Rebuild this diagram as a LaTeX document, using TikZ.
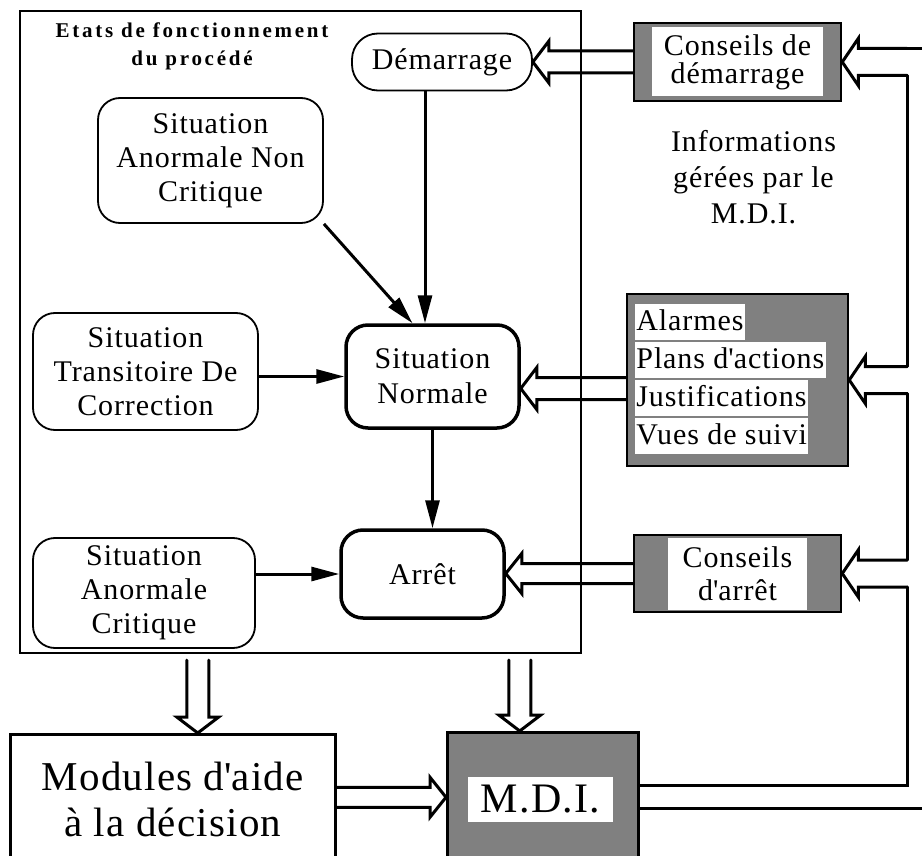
\documentclass[tikz,border=0pt]{standalone}
\usepackage{fontspec}
\setmainfont{Liberation Serif}[LetterSpace=3]
\usetikzlibrary{positioning,calc,arrows.meta}

\begin{document}
\begin{tikzpicture}[x=1pt, y=-1pt,
    txt/.style={font=\fontsize{30}{34}\selectfont, align=center},
    etat/.style={txt, draw, line width=1.8pt, rounded corners=22pt, inner sep=0pt},
    etatfort/.style={etat, line width=3.5pt},
    conseil/.style={draw, line width=2.5pt, fill=black!50, inner sep=0pt},
    blanc/.style={txt, fill=white, inner sep=0pt},
    fleche/.style={line width=3pt, -{Triangle[length=28pt, width=14pt]}},
    hollow/.style={line width=3pt, line cap=round, line join=miter}]

    \useasboundingbox (0,0) rectangle (922,856);
    \clip (0,0) rectangle (922,856);

    % head length of the hollow arrows
    \def\headlen{16pt}

    % Macro for drawing a hollow double-line arrow: #1 tail, #2 tip, #3 half width of the shaft
    \newcommand{\dblarrow}[3]{
        \coordinate (hb) at ($(#2)!\headlen!(#1)$);
        \draw[hollow]
            ($(#1)!#3!90:(#2)$) --
            ($(hb)!#3!90:(#2)$) --
            ($(hb)!{#3+10pt}!90:(#2)$) --
            (#2) --
            ($(hb)!{#3+10pt}!-90:(#2)$) --
            ($(hb)!#3!-90:(#2)$) --
            ($(#1)!#3!-90:(#2)$);
    }

    % Etats de fonctionnement du procede
    \node[draw, line width=2pt, minimum width=561pt, minimum height=642pt, anchor=north west] (etats) at (19,10) {};
    \node[font=\fontsize{21}{28}\selectfont\bfseries\addfontfeatures{LetterSpace=13}, align=center] (titre) at (192,46) {Etats de fonctionnement\\du procédé};

    \node[etat, minimum width=180pt, minimum height=57pt, rounded corners=26pt] (dem) at (442,62) {Démarrage};
    \node[etat, minimum width=225pt, minimum height=125pt] (sanc) at (210.5,160.5) {Situation\\Anormale Non\\Critique};
    \node[etat, minimum width=225pt, minimum height=117pt] (stdc) at (145.5,371.5) {Situation\\Transitoire De\\Correction};
    \node[etatfort, minimum width=173pt, minimum height=103pt, font=\fontsize{30}{35}\selectfont] (norm) at (432.5,376.5) {Situation\\Normale};
    \node[etat, minimum width=222pt, minimum height=110pt] (sac) at (144,593) {Situation\\Anormale\\Critique};
    \node[etatfort, minimum width=163pt, minimum height=88pt] (arr) at (422.5,574) {Arrêt};

    % Informations gerees par le M.D.I.
    \node[conseil, minimum width=207pt, minimum height=78pt] (cdem) at (737.5,62) {};
    \node[blanc, minimum width=171pt, minimum height=69pt, font=\fontsize{30}{28}\selectfont] (cdemtxt) at (cdem) {Conseils de\\démarrage};

    \node[txt, font=\fontsize{30}{36}\selectfont] (info) at (753.5,177) {Informations\\gérées par le\\M.D.I.};

    \node[conseil, minimum width=221pt, minimum height=172pt] (mid) at (737.5,380) {};
    \foreach \ligne [count=\i] in {Alarmes, Plans d\textquotesingle actions, Justifications, Vues de suivi}
        \node[blanc, anchor=north west, text height=25pt, text depth=8pt, inner ysep=1.5pt, inner xsep=1.5pt] (ligne\i) at ($(mid.north west)+(9,{11+38*(\i-1)})$) {\ligne};

    \node[conseil, minimum width=207pt, minimum height=77pt] (carr) at (737.5,573.5) {};
    \node[blanc, minimum width=139pt, minimum height=72pt, font=\fontsize{30}{33}\selectfont] (carrtxt) at (carr) {Conseils\\d\textquotesingle arrêt};

    % Modules and M.D.I.
    \node[draw, line width=2.5pt, minimum width=325pt, minimum height=130pt, anchor=north west, font=\fontsize{41}{46}\selectfont, align=center] (mod) at (9,733) {Modules d\textquotesingle aide\\à la décision};
    \node[conseil, minimum width=191pt, minimum height=130pt, anchor=north west] (mdi) at (446,731) {};
    \node[blanc, minimum width=145pt, minimum height=45pt, font=\fontsize{42}{46}\selectfont] (mditxt) at (540.5,799.5) {M.D.I.};

    % Transitions between the states
    \draw[fleche] ($(dem.south)+(-17,0)$) -- ($(norm.north)+(-7.5,0)$);
    \draw[fleche] (sanc.south east) -- ($(norm.north)+(-20,0)$);
    \draw[fleche] (stdc.east |- norm.west) -- (norm.west);
    \draw[fleche] (norm.south) -- (norm.south |- arr.north);
    \draw[fleche] (sac.east |- arr.west) -- (arr.west);

    % Advice towards the states
    \dblarrow{cdem.west |- dem.east}{dem.east}{11pt}
    \coordinate (versN) at ($(norm.east)+(0,12)$);
    \dblarrow{mid.west |- versN}{versN}{11pt}
    \dblarrow{carr.west}{arr.east |- carr.west}{10pt}

    % Feedback from the M.D.I.
    \coordinate (rail) at (907,0);
    \dblarrow{cdem.east -| rail}{cdem.east}{13.5pt}
    \dblarrow{mid.east -| rail}{mid.east}{13.5pt}
    \dblarrow{carr.east -| rail}{carr.east}{13.5pt}
    \draw[hollow] ($(cdem.east -| rail)+(0,-13.5)$) -- +(20,0);
    \draw[hollow] ($(cdem.east -| rail)+(0,13.5)$) -- ($(mid.east -| rail)+(0,-13.5)$);
    \draw[hollow] ($(mid.east -| rail)+(0,13.5)$) -- ($(carr.east -| rail)+(0,-13.5)$);
    \draw[hollow] ($(carr.east -| rail)+(0,13.5)$) |- ($(mdi.east)+(0,-11.5)$);
    \draw[hollow] ($(mdi.east)+(0,11.5)$) -- +(300,0);

    % Towards the decision modules and the M.D.I.
    \coordinate (versMod) at ($(mod.north)+(25,0)$);
    \coordinate (depMod) at ($(versMod |- etats.south)+(0,6)$);
    \dblarrow{depMod}{versMod}{11pt}
    \coordinate (versMdi) at ($(mdi.north)+(-23,0)$);
    \coordinate (depMdi) at ($(versMdi |- etats.south)+(0,6)$);
    \dblarrow{depMdi}{versMdi}{11pt}
    \dblarrow{mod.east |- mdi.west}{mdi.west}{10pt}
\end{tikzpicture}
\end{document}
